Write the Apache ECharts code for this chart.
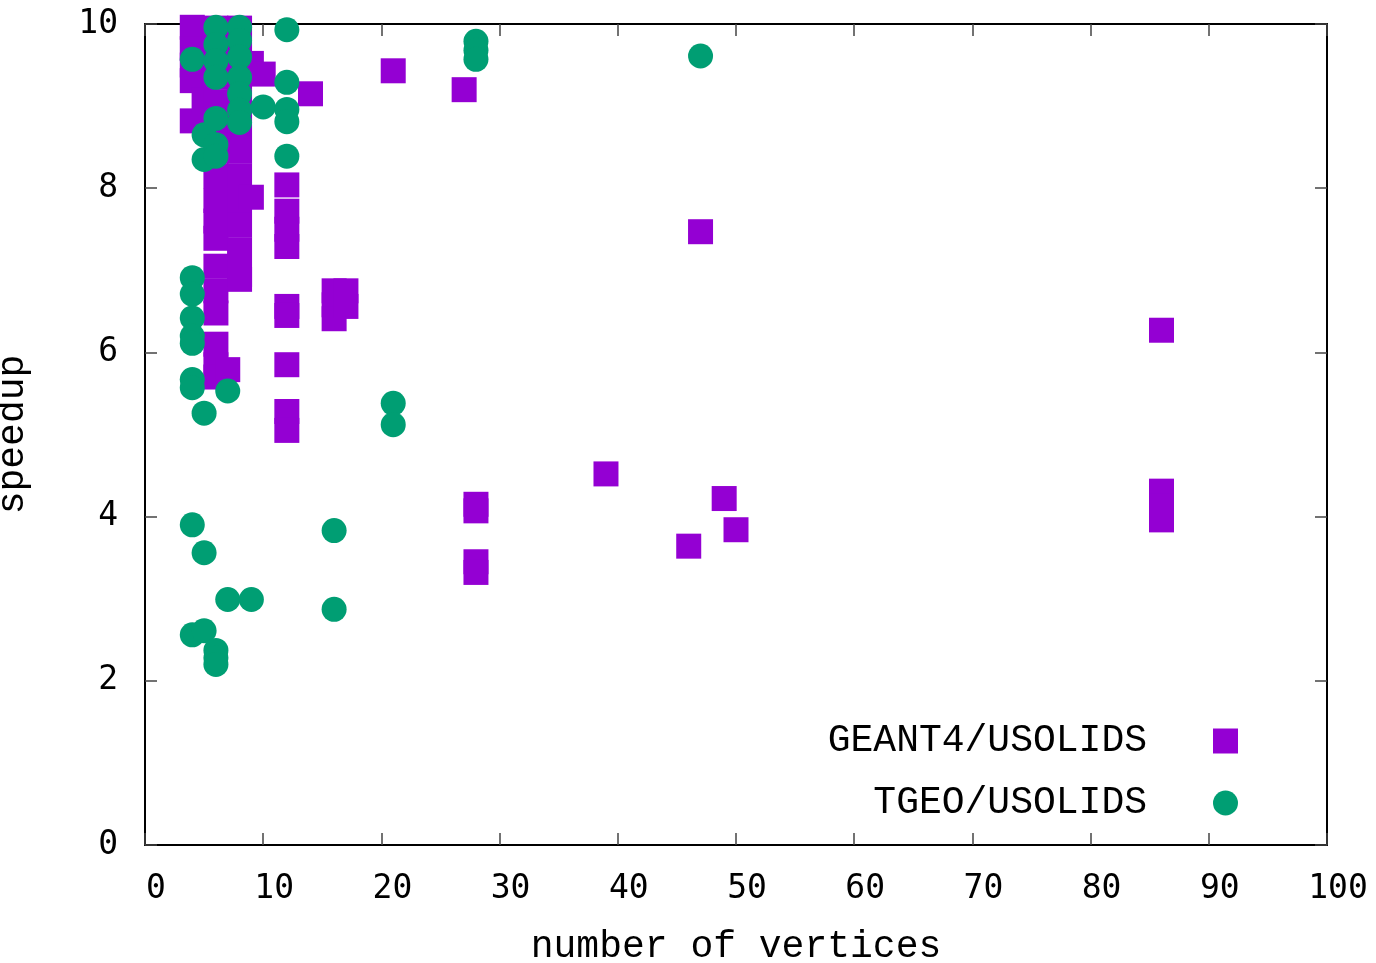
<!DOCTYPE html>
<html>
<head>
<meta charset="utf-8">
<script src="https://cdn.jsdelivr.net/npm/echarts@6/dist/echarts.min.js"></script>
<style>
  html, body { margin: 0; padding: 0; background: #fff; }
  #main { width: 1376px; height: 963px; }
</style>
</head>
<body>
<div id="main"></div>
<script>
// GEANT4/USOLIDS 加速比 (squares)
var g4X = [4, 4, 4, 4, 4,
  5,
  6, 6, 6, 6, 6, 6, 6, 6, 6, 6, 6, 6, 6, 6, 6, 6,
  7,
  8, 8, 8, 8, 8, 8, 8, 8, 8, 8, 8, 8,
  9, 9, 10,
  12, 12, 12, 12, 12, 12, 12, 12, 12,
  14, 16, 16, 16, 17, 17, 21, 27,
  28, 28, 28, 28, 39, 46, 47, 49, 50,
  86, 86, 86, 86];
var g4Y = [9.96, 9.7, 9.5, 9.31, 8.82,
  9.07,
  9.95, 9.65, 9.35, 9.05, 8.75, 8.45, 8.15, 7.85, 7.6, 7.39, 7.05, 6.75, 6.48, 6.1, 5.85, 5.7,
  5.79,
  9.95, 9.65, 9.35, 9.05, 8.75, 8.45, 8.15, 7.85, 7.55, 7.25, 6.95, 6.89,
  9.52, 7.89, 9.39,
  8.04, 7.72, 7.5, 7.29, 6.56, 6.45, 5.85, 5.28, 5.05,
  9.15, 6.75, 6.58, 6.41, 6.75, 6.56, 9.43, 9.2,
  4.15, 4.07, 3.45, 3.32, 4.52, 3.64, 7.47, 4.22, 3.84,
  6.27, 4.31, 4.13, 3.96];

// TGEO/USOLIDS 加速比 (circles)
var tgX = [4, 4, 4, 4, 4, 4, 4, 4, 4, 4,
  5, 5, 5, 5, 5,
  6, 6, 6, 6, 6, 6, 6, 6, 6, 6,
  7, 7,
  8, 8, 8, 8, 8, 8, 8,
  9, 10,
  12, 12, 12, 12, 12,
  16, 16, 21, 21, 28, 28, 28, 47];
var tgY = [9.57, 6.91, 6.71, 6.42, 6.2, 6.11, 5.67, 5.57, 3.9, 2.56,
  8.65, 8.35, 5.26, 3.56, 2.61,
  9.96, 9.75, 9.55, 9.35, 8.85, 8.53, 8.39, 2.37, 2.28, 2.2,
  5.53, 2.99,
  9.96, 9.8, 9.6, 9.35, 9.15, 8.95, 8.8,
  2.99, 8.99,
  9.93, 9.29, 8.96, 8.81, 8.39,
  3.83, 2.87, 5.38, 5.12, 9.79, 9.68, 9.57, 9.61];

var seriesNames = ['GEANT4/USOLIDS', 'TGEO/USOLIDS'];

var zip = function (xs, ys) {
  var out = [];
  for (var i = 0; i < xs.length; i++) out.push([xs[i], ys[i]]);
  return out;
};

var chart = echarts.init(document.getElementById('main'));

var tickFont = { fontFamily: 'DejaVu Sans Mono', fontSize: 33, color: '#000' };
var monoFont = { fontFamily: 'Liberation Mono', fontSize: 38, color: '#000' };
var frameLine = { show: true, onZero: false, lineStyle: { color: '#000', width: 2 } };
var innerTick = { show: true, inside: true, length: 12, lineStyle: { color: '#444', width: 1.5 } };

var option = {
  backgroundColor: '#fff',
  animation: false,
  grid: { left: 145, right: 49, top: 24, bottom: 118, containLabel: false, outerBoundsMode: 'none' },
  xAxis: [
    {
      type: 'value', min: 0, max: 100, interval: 10,
      name: 'number of vertices', nameLocation: 'middle', nameGap: 83,
      nameTextStyle: monoFont,
      axisLine: frameLine, axisTick: innerTick,
      // gnuplot 的刻度文字略微偏右
      axisLabel: Object.assign({ margin: 28, padding: [0, 0, 0, 22] }, tickFont),
      splitLine: { show: false }
    },
    {
      type: 'value', min: 0, max: 100, interval: 10, position: 'top',
      axisLine: frameLine, axisTick: innerTick,
      axisLabel: { show: false }, splitLine: { show: false }
    }
  ],
  yAxis: [
    {
      type: 'value', min: 0, max: 10, interval: 2,
      name: 'speedup', nameLocation: 'middle', nameGap: 113,
      nameTextStyle: monoFont,
      axisLine: frameLine, axisTick: innerTick,
      axisLabel: Object.assign({ margin: 27 }, tickFont),
      splitLine: { show: false }
    },
    {
      type: 'value', min: 0, max: 10, interval: 2, position: 'right',
      axisLine: frameLine, axisTick: innerTick,
      axisLabel: { show: false }, splitLine: { show: false }
    }
  ],
  legend: [
    {
      data: [{ name: seriesNames[0], icon: 'rect' }],
      right: 138, top: 722, padding: 0, align: 'right',
      itemWidth: 25, itemHeight: 25,
      textStyle: Object.assign({ padding: [0, 61, 0, 0] }, monoFont)
    },
    {
      data: [{ name: seriesNames[1], icon: 'circle' }],
      right: 138, top: 784, padding: 0, align: 'right',
      itemWidth: 25, itemHeight: 25,
      textStyle: Object.assign({ padding: [0, 61, 0, 0] }, monoFont)
    }
  ],
  series: [
    {
      name: seriesNames[0], type: 'scatter', symbol: 'rect', symbolSize: 25,
      itemStyle: { color: '#9400D3', opacity: 1 },
      data: zip(g4X, g4Y)
    },
    {
      name: seriesNames[1], type: 'scatter', symbol: 'circle', symbolSize: 25,
      itemStyle: { color: '#009E73', opacity: 1 },
      data: zip(tgX, tgY)
    }
  ]
};

chart.setOption(option);
</script>
</body>
</html>
